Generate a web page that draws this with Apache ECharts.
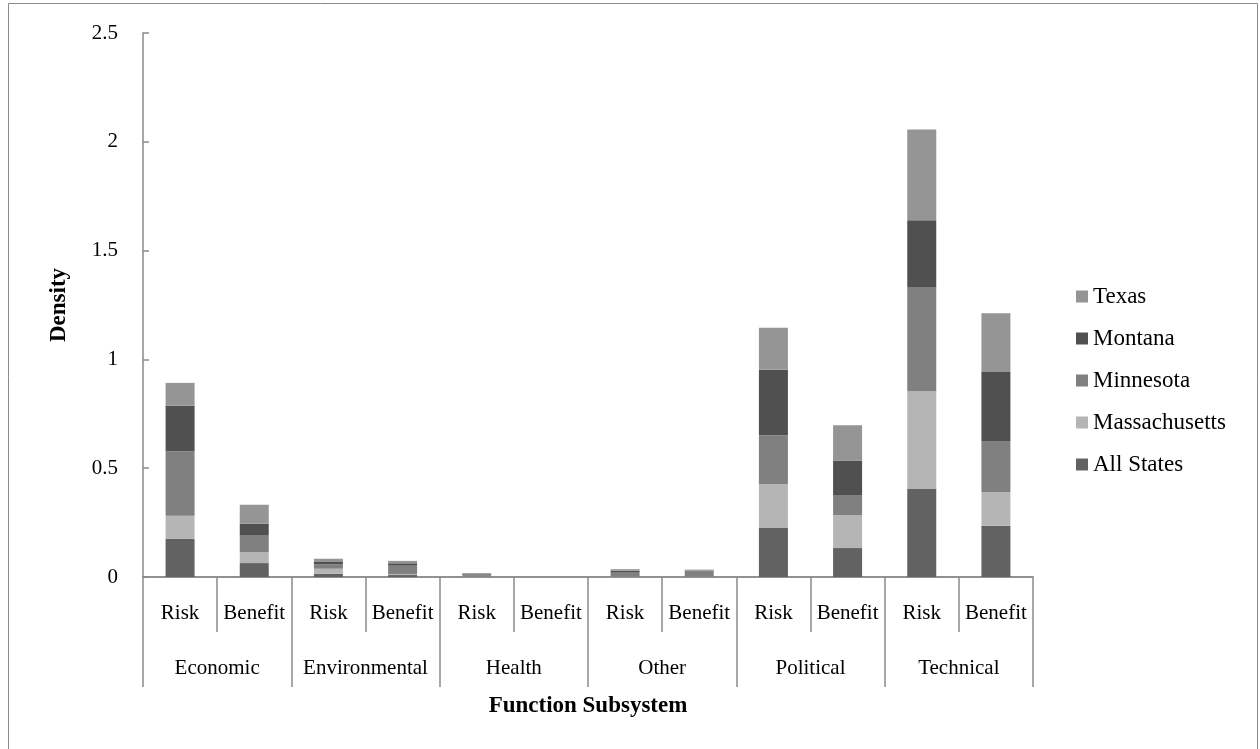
<!DOCTYPE html>
<html>
<head>
<meta charset="utf-8">
<script src="https://cdn.jsdelivr.net/npm/echarts@6/dist/echarts.min.js"></script>
<style>
html,body{margin:0;padding:0;background:#fff;}
#chart{width:1260px;height:749px;}
</style>
</head>
<body>
<div id="chart"></div>
<script>
const subCategories = ['Risk','Benefit','Risk','Benefit','Risk','Benefit','Risk','Benefit','Risk','Benefit','Risk','Benefit'];
const groups = ['Economic','Environmental','Health','Other','Political','Technical'];
const allStates     = [0.175, 0.064, 0.015, 0.009, 0.003, 0, 0.002, 0.002, 0.225, 0.133, 0.404, 0.236];
const massachusetts = [0.107, 0.051, 0.023, 0.005, 0.002, 0, 0.001, 0.001, 0.202, 0.152, 0.451, 0.155];
const minnesota     = [0.296, 0.078, 0.020, 0.038, 0.008, 0, 0.017, 0.022, 0.224, 0.090, 0.478, 0.234];
const montana       = [0.209, 0.052, 0.011, 0.011, 0.001, 0, 0.009, 0.004, 0.302, 0.160, 0.307, 0.317];
const texas         = [0.105, 0.087, 0.015, 0.011, 0.004, 0, 0.007, 0.005, 0.193, 0.162, 0.417, 0.270];
const yTicks = {min: 0, max: 2.5, interval: 0.5};

const FONT = '"Liberation Serif", "Times New Roman", serif';
const AXIS = '#8a8a8a';
const chart = echarts.init(document.getElementById('chart'));
function mk(name, data, color) {
  return {name: name, type: 'bar', stack: 'total', data: data, barWidth: 29,
    itemStyle: {color: color, borderWidth: 0},
    xAxisIndex: 0, yAxisIndex: 0};
}
chart.setOption({
  animation: false,
  backgroundColor: '#fff',
  graphic: [{type: 'rect', shape: {x: 8.5, y: 3.5, width: 1249, height: 770},
    style: {fill: 'none', stroke: '#8a8a8a', lineWidth: 1}, silent: true}],
  grid: {left: 143, right: 227, top: 33, bottom: 172, containLabel: false},
  legend: {
    orient: 'vertical', left: 1071, top: 280,
    data: ['Texas','Montana','Minnesota','Massachusetts','All States'],
    icon: 'rect', itemWidth: 12, itemHeight: 12, itemGap: 19,
    textStyle: {fontFamily: FONT, fontSize: 23, color: '#000'}
  },
  xAxis: [{
    type: 'category', data: subCategories, position: 'bottom', offset: 0,
    axisLine: {lineStyle: {color: AXIS, width: 1.5}},
    axisTick: {show: true, length: 55, interval: 0, lineStyle: {color: AXIS, width: 1.5}},
    axisLabel: {interval: 0, margin: 26, fontFamily: FONT, fontSize: 21, color: '#000'}
  }, {
    type: 'category', data: groups, position: 'bottom', offset: 0,
    axisLine: {lineStyle: {color: AXIS, width: 1.5}},
    axisTick: {show: true, length: 110, interval: 0, lineStyle: {color: AXIS, width: 1.5}},
    axisLabel: {interval: 0, margin: 81, fontFamily: FONT, fontSize: 21, color: '#000'},
    name: 'Function Subsystem', nameLocation: 'middle', nameGap: 118,
    nameTextStyle: {fontFamily: FONT, fontSize: 23, fontWeight: 'bold', color: '#000'}
  }],
  yAxis: {
    type: 'value', min: yTicks.min, max: yTicks.max, interval: yTicks.interval,
    splitLine: {show: false},
    axisLine: {show: true, lineStyle: {color: AXIS, width: 1.5}},
    axisTick: {show: true, inside: true, length: 6, lineStyle: {color: AXIS, width: 1.5}},
    axisLabel: {margin: 25, fontFamily: FONT, fontSize: 21, color: '#000'},
    name: 'Density', nameLocation: 'middle', nameGap: 72,
    nameTextStyle: {fontFamily: FONT, fontSize: 23, fontWeight: 'bold', color: '#000'}
  },
  series: [
    mk('All States', allStates, '#626262'),
    mk('Massachusetts', massachusetts, '#b5b5b5'),
    mk('Minnesota', minnesota, '#808080'),
    mk('Montana', montana, '#505050'),
    mk('Texas', texas, '#959595')
  ]
});
</script>
</body>
</html>
